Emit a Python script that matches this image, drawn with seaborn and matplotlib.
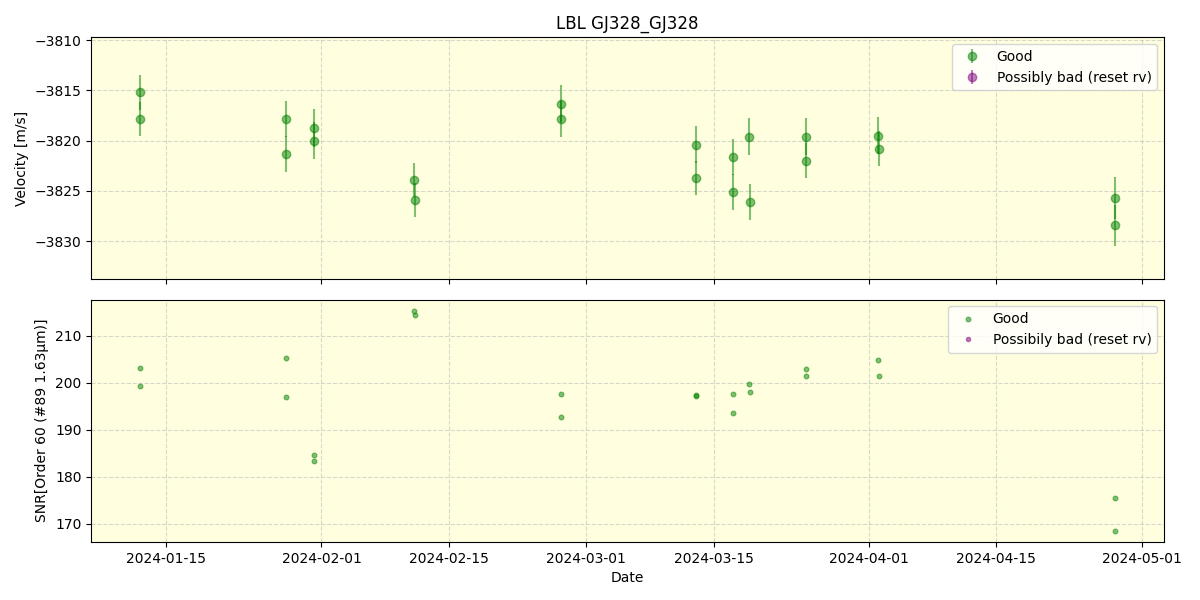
import matplotlib
matplotlib.use("Agg")
import matplotlib.pyplot as plt
import matplotlib.dates as mdates
import seaborn as sns
import pandas as pd
import numpy as np

# ---- data ----
obs_times = [
    "2024-01-12 02:30", "2024-01-12 03:10",
    "2024-01-28 03:00", "2024-01-28 03:40",
    "2024-01-31 04:30", "2024-01-31 05:10",
    "2024-02-11 04:30", "2024-02-11 05:10",
    "2024-02-27 06:30", "2024-02-27 07:10",
    "2024-03-13 01:00", "2024-03-13 01:40",
    "2024-03-17 02:00", "2024-03-17 02:40",
    "2024-03-18 22:00", "2024-03-18 22:40",
    "2024-03-25 02:00", "2024-03-25 02:40",
    "2024-04-02 01:40", "2024-04-02 02:20",
    "2024-04-28 00:00", "2024-04-28 00:40",
]
velocity = [
    -3815.2, -3817.8,
    -3817.8, -3821.3,
    -3818.7, -3820.0,
    -3823.9, -3825.9,
    -3816.3, -3817.8,
    -3820.4, -3823.7,
    -3821.6, -3825.1,
    -3819.6, -3826.1,
    -3819.6, -3822.0,
    -3819.5, -3820.8,
    -3825.7, -3828.4,
]
velocity_err = [
    1.7, 1.7,
    1.8, 1.8,
    1.9, 1.85,
    1.65, 1.7,
    1.85, 1.8,
    1.85, 1.65,
    1.8, 1.75,
    1.85, 1.75,
    1.85, 1.75,
    1.85, 1.75,
    2.1, 2.05,
]
snr = [
    203.0, 199.2,
    205.3, 197.0,
    184.6, 183.4,
    215.3, 214.4,
    197.5, 192.7,
    197.4, 197.1,
    197.5, 193.5,
    199.6, 198.1,
    202.8, 201.5,
    204.9, 201.3,
    175.5, 168.5,
]
bad_times = []
bad_velocity = []
bad_velocity_err = []
bad_snr = []

df = pd.DataFrame({
    "Date": pd.to_datetime(obs_times),
    "Velocity": velocity,
    "Err": velocity_err,
    "SNR": snr,
})
bad_dates = pd.to_datetime(bad_times)

fig, (ax1, ax2) = plt.subplots(2, 1, figsize=(12, 6), dpi=100, sharex=True)
fig.subplots_adjust(left=0.076, right=0.970, top=0.938, bottom=0.097, hspace=0.083)

for ax in (ax1, ax2):
    ax.set_facecolor("lightyellow")
    ax.grid(True, linestyle="--", alpha=0.5)
    ax.set_axisbelow(True)

# top: velocity
ax1.errorbar(df["Date"], df["Velocity"], yerr=df["Err"], fmt="o",
             color="green", alpha=0.5, label="Good")
ax1.errorbar(bad_dates, bad_velocity, yerr=bad_velocity_err, fmt="o",
             color="purple", alpha=0.5, label="Possibly bad (reset rv)")
ax1.set_ylim(-3833.8, -3809.7)
ax1.set_ylabel("Velocity [m/s]")
ax1.set_title("LBL GJ328_GJ328")
ax1.legend(loc="upper right")

# bottom: SNR
sns.scatterplot(data=df, x="Date", y="SNR", ax=ax2, color="green", alpha=0.5,
                s=12, edgecolor="green", linewidth=0.8, label="Good")
ax2.plot(bad_dates, bad_snr, ".", color="purple", alpha=0.5,
         label="Possibily bad (reset rv)")
ax2.set_ylabel("SNR[Order 60 (#89 1.63μm)]")
ax2.set_xlabel("Date")
ax2.legend(loc="upper right")

ax2.xaxis.set_major_locator(mdates.DayLocator(bymonthday=[1, 15]))
ax2.xaxis.set_major_formatter(mdates.DateFormatter("%Y-%m-%d"))

fig.savefig("out.png", dpi=100)
